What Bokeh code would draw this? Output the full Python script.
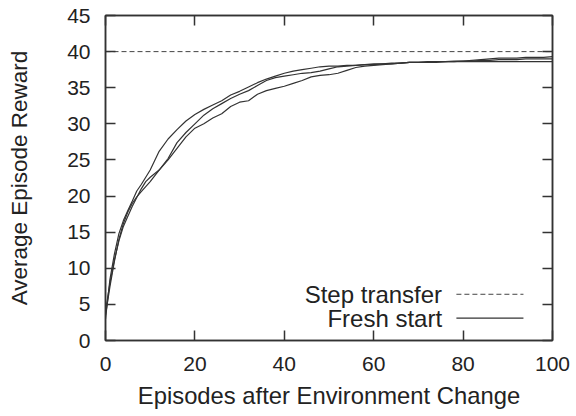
from bokeh.plotting import figure
from bokeh.models import LinearAxis, FixedTicker, Range1d, Label
from bokeh.embed import file_html
from bokeh.resources import INLINE

# ---- data ----
episodes = [0, 1, 2, 3, 4, 5, 6, 7, 8, 9, 10,
            12, 14, 16, 18, 20, 22, 24, 26, 28, 30,
            32, 34, 36, 38, 40, 42, 44, 46, 48, 50,
            52, 54, 56, 58, 60, 62, 64, 66, 68, 70,
            72, 74, 76, 78, 80, 82, 84, 86, 88, 90,
            92, 94, 96, 98, 100]

fresh_run1 = [3.0, 8.5, 12.0, 14.8, 16.6, 18.0, 19.3, 20.7, 21.6, 22.6, 23.6,
              26.2, 27.9, 29.2, 30.4, 31.3, 32.0, 32.6, 33.2, 34.0, 34.5,
              35.1, 35.7, 36.2, 36.6, 37.0, 37.3, 37.5, 37.7, 37.9, 38.0,
              38.0, 38.1, 38.1, 38.2, 38.3, 38.3, 38.4, 38.4, 38.5, 38.5,
              38.5, 38.6, 38.6, 38.6, 38.7, 38.8, 38.9, 39.0, 39.1, 39.1,
              39.1, 39.2, 39.2, 39.2, 39.3]

fresh_run2 = [3.5, 7.5, 11.0, 14.0, 16.2, 17.8, 19.0, 19.9, 20.6, 21.3, 22.0,
              23.6, 25.2, 27.4, 28.8, 30.0, 31.2, 32.1, 32.8, 33.5, 34.1,
              34.6, 35.3, 36.0, 36.4, 36.6, 36.8, 37.0, 37.1, 37.3, 37.6,
              37.9, 38.0, 38.1, 38.2, 38.2, 38.3, 38.3, 38.4, 38.5, 38.5,
              38.6, 38.6, 38.6, 38.7, 38.7, 38.7, 38.8, 38.8, 38.9, 38.9,
              38.9, 39.0, 39.0, 39.0, 39.0]

fresh_run3 = [4.0, 8.0, 11.2, 13.8, 15.8, 17.2, 18.6, 19.8, 21.0, 22.0, 22.6,
              23.6, 25.0, 26.6, 28.2, 29.4, 30.0, 30.8, 31.4, 32.4, 33.0,
              33.2, 34.1, 34.6, 34.9, 35.2, 35.6, 36.0, 36.5, 36.7, 36.8,
              37.0, 37.4, 37.8, 38.0, 38.1, 38.2, 38.3, 38.4, 38.5, 38.5,
              38.5, 38.5, 38.6, 38.6, 38.6, 38.6, 38.6, 38.6, 38.6, 38.6,
              38.6, 38.6, 38.6, 38.6, 38.6]

step_x = [0, 100]
step_y = [40, 40]

x_ticks = [0, 20, 40, 60, 80, 100]
y_ticks = [0, 5, 10, 15, 20, 25, 30, 35, 40, 45]

legend_labels = ["Step transfer", "Fresh start"]

# ---- style ----
FONT = "Liberation Sans"
TICK_FS = "21px"
XTITLE_FS = "23.8px"
YTITLE_FS = "22.5px"
LEGEND_FS = "24px"
INK = "#333333"
TXT = "#222222"

p = figure(frame_width=447, frame_height=325,
           min_border_left=105, min_border_right=24,
           min_border_top=15, min_border_bottom=76,
           x_range=Range1d(0, 100), y_range=Range1d(0, 45),
           output_backend="svg", toolbar_location=None,
           background_fill_color="white", border_fill_color="white")

p.grid.visible = False
p.outline_line_color = INK
p.outline_line_width = 1.5

for ax in (p.xaxis[0], p.yaxis[0]):
    ax.major_tick_in = 10
    ax.major_tick_out = 0
    ax.minor_tick_line_color = None
    ax.axis_line_color = INK
    ax.axis_line_width = 1.5
    ax.major_tick_line_color = INK
    ax.major_tick_line_width = 1.5
    ax.major_label_text_font = FONT
    ax.major_label_text_font_size = TICK_FS
    ax.major_label_text_color = TXT
    ax.axis_label_text_font = FONT
    ax.axis_label_text_font_style = "normal"
    ax.axis_label_text_color = TXT

p.xaxis[0].axis_label_text_font_size = XTITLE_FS
p.yaxis[0].axis_label_text_font_size = YTITLE_FS
p.xaxis[0].ticker = FixedTicker(ticks=x_ticks)
p.yaxis[0].ticker = FixedTicker(ticks=y_ticks)
p.xaxis[0].axis_label = "Episodes after Environment Change"
p.yaxis[0].axis_label = "Average Episode Reward"
p.xaxis[0].major_label_standoff = 16
p.xaxis[0].axis_label_standoff = 8
p.yaxis[0].major_label_standoff = 15
p.yaxis[0].axis_label_standoff = 32

# mirror ticks on top and right
top = LinearAxis(ticker=FixedTicker(ticks=x_ticks))
right = LinearAxis(ticker=FixedTicker(ticks=y_ticks))
for ax in (top, right):
    ax.major_tick_in = 10
    ax.major_tick_out = 0
    ax.minor_tick_line_color = None
    ax.axis_line_color = INK
    ax.axis_line_width = 1.5
    ax.major_tick_line_color = INK
    ax.major_tick_line_width = 1.5
    ax.major_label_text_font_size = "0px"
    ax.major_label_standoff = 0
    ax.major_label_text_color = None
p.add_layout(top, "above")
p.add_layout(right, "right")

# data lines
p.line(step_x, step_y, line_color="#444444", line_width=1, line_dash="5 3")
for run in (fresh_run1, fresh_run2, fresh_run3):
    p.line(episodes, run, line_color=INK, line_width=1.2)

# legend (gnuplot style: label right-aligned, sample on the right)
legend_y = [6.4, 3.1]
legend_text_x = 75.3
legend_line_x0, legend_line_x1 = 78.5, 93.5
for lbl, yy in zip(legend_labels, legend_y):
    p.add_layout(Label(x=legend_text_x, y=yy, text=lbl, text_align="right",
                       text_baseline="middle", text_font=FONT,
                       text_font_size=LEGEND_FS, text_color=TXT))
p.segment(x0=[legend_line_x0], y0=[legend_y[0]], x1=[legend_line_x1], y1=[legend_y[0]],
          line_color="#444444", line_width=1, line_dash="5 3")
p.segment(x0=[legend_line_x0], y0=[legend_y[1]], x1=[legend_line_x1], y1=[legend_y[1]],
          line_color=INK, line_width=1.2)

open("out.html", "w").write(file_html(p, INLINE))
